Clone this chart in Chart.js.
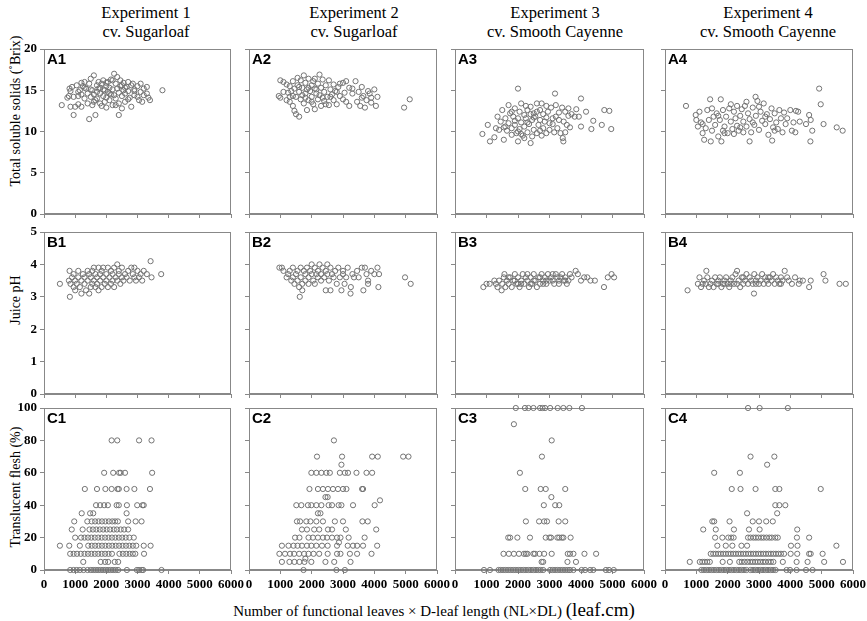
<!DOCTYPE html>
<html><head><meta charset="utf-8">
<script src="https://cdn.jsdelivr.net/npm/chart.js@4.4.0/dist/chart.umd.min.js"></script>
<style>
body{margin:0;background:#fff;width:867px;height:621px;overflow:hidden;position:relative;font-family:"Liberation Serif","DejaVu Serif",serif;}
.t{position:absolute;white-space:nowrap;color:#000;transform:translate(-50%,-50%);line-height:1;}
.yt{position:absolute;white-space:nowrap;color:#000;transform:translate(-50%,-50%) rotate(-90deg);font-size:14px;line-height:1;}
.lab{position:absolute;font-family:"Liberation Sans",Arial,sans-serif;font-weight:bold;font-size:15px;line-height:1;color:#000;}
.box{position:absolute;}
</style></head><body>
<div class="t" style="left:146px;top:13px;font-size:16.5px">Experiment 1</div>
<div class="t" style="left:146px;top:32px;font-size:16.5px">cv. Sugarloaf</div>
<div class="t" style="left:354px;top:13px;font-size:16.5px">Experiment 2</div>
<div class="t" style="left:354px;top:32px;font-size:16.5px">cv. Sugarloaf</div>
<div class="t" style="left:555px;top:13px;font-size:16.5px">Experiment 3</div>
<div class="t" style="left:555px;top:32px;font-size:16.5px">cv. Smooth Cayenne</div>
<div class="t" style="left:768px;top:13px;font-size:16.5px">Experiment 4</div>
<div class="t" style="left:768px;top:32px;font-size:16.5px">cv. Smooth Cayenne</div>
<div class="yt" style="left:16px;top:111px">Total soluble solids (˚Brix)</div>
<div class="yt" style="left:16px;top:300px">Juice pH</div>
<div class="yt" style="left:16px;top:487px">Translucent flesh (%)</div>
<div class="t" style="left:434px;top:609px;font-size:15px">Number of functional leaves × D-leaf length (NL×DL) <span style="font-size:19px">(leaf.cm)</span></div>
<script>
// ---- data ----
const xTickValues = [0,1000,2000,3000,4000,5000,6000];
const panelLabels = ['A1','A2','A3','A4','B1','B2','B3','B4','C1','C2','C3','C4'];
const rowYMax = [20,5,100];
const rowYStep = [5,1,20];

const tssExp1 = [[570,13.2],[750,14.1],[800,14.3],[820,15.2],[850,13],[850,14.9],[900,15.4],[950,12],[950,14.2],[1000,13],[1050,15.6],[1100,14.8],[1100,13.3],[1100,14.3],[1150,15],[1200,14.5],[1200,13],[1200,15.9],[1250,15.5],[1300,14],[1300,16],[1300,15.3],[1350,15.2],[1400,14.6],[1400,13.4],[1450,11.5],[1450,15.8],[1500,16.4],[1500,14.2],[1500,15.1],[1550,13.2],[1550,15],[1600,16.8],[1600,14.5],[1600,13.6],[1650,13.8],[1650,12],[1700,15.6],[1700,14.8],[1700,14],[1750,16],[1750,15.2],[1800,13.4],[1800,14.6],[1800,15.3],[1850,15.8],[1850,13.1],[1900,16.2],[1900,14.3],[1900,15.1],[1950,15],[1950,13.6],[2000,15.5],[2000,14.1],[2000,12.9],[2000,15.9],[2050,16],[2050,14.8],[2100,15.3],[2100,13.8],[2100,14.6],[2150,14.5],[2150,16.3],[2200,15.1],[2200,13.2],[2200,16.2],[2250,17],[2250,14.4],[2300,15.8],[2300,14],[2300,13.2],[2350,16.6],[2350,15.2],[2400,12],[2400,14.7],[2400,13.4],[2450,16.2],[2450,15.5],[2500,14.3],[2500,12.8],[2500,15.6],[2550,15.9],[2550,15],[2600,14.6],[2600,13.6],[2600,15.3],[2650,15.4],[2700,14.9],[2700,16],[2700,13.9],[2750,14.1],[2800,15.6],[2800,13],[2850,15.8],[2900,14.4],[2900,15.1],[2900,14.9],[3000,14.2],[3000,15.5],[3050,13.8],[3100,14.8],[3100,15.8],[3150,13.6],[3200,14.4],[3200,15.2],[3300,15.4],[3300,14.6],[3350,14.1],[3400,13.8],[3800,15]];

const tssExp2 = [[950,14.3],[1000,14.1],[1000,16.2],[1100,16],[1100,14.8],[1200,15.7],[1200,13.8],[1250,14.7],[1300,13.6],[1300,15.5],[1300,14.2],[1350,14.9],[1400,16.1],[1400,13.1],[1400,14.3],[1450,12.5],[1450,15.2],[1500,12.1],[1500,14.2],[1550,16.5],[1550,15.6],[1600,11.8],[1600,14.8],[1600,15.4],[1650,13.9],[1650,16.2],[1700,15.3],[1700,14.4],[1750,16.8],[1750,13.4],[1800,15.9],[1800,14.6],[1800,14.1],[1850,15.1],[1850,12.6],[1900,16.4],[1900,13.8],[1900,15.3],[1950,14.9],[2000,15.6],[2000,14.2],[2000,13.6],[2050,16.1],[2050,13.3],[2100,15.2],[2100,12.7],[2100,16.4],[2150,14.6],[2150,15.1],[2200,15.8],[2200,13.9],[2250,16.9],[2250,14.4],[2300,15.3],[2300,13.1],[2350,16.3],[2350,14.1],[2400,14.8],[2400,13.7],[2450,15.6],[2450,13.3],[2500,14.2],[2550,16.2],[2550,13.2],[2600,15.1],[2600,14.2],[2650,14.5],[2700,13.8],[2700,15.7],[2750,14.9],[2800,13.3],[2800,14.8],[2850,15.4],[2900,14.3],[2900,15.8],[3000,15.9],[3000,13.9],[3050,14.7],[3100,16.1],[3100,13.6],[3200,15.3],[3200,13.1],[3300,14.6],[3300,15.2],[3400,16.1],[3450,13.6],[3500,14.8],[3550,13.1],[3600,15.4],[3600,14.1],[3650,14.3],[3700,12.9],[3750,13.8],[3800,14.9],[3850,14.6],[3900,14.1],[3900,13.5],[4000,15.1],[4050,13.1],[4100,14.2],[4950,12.9],[5130,13.9]];

const tssExp3 = [[870,9.7],[1040,10.8],[1110,8.8],[1250,9.3],[1300,10.4],[1350,11.8],[1400,10.2],[1450,11.2],[1500,12.6],[1550,10.5],[1550,9],[1600,11.6],[1600,10.6],[1650,10.1],[1700,13.2],[1700,11],[1750,12.2],[1800,10.4],[1800,9.6],[1800,12.4],[1850,11.8],[1900,12.8],[1900,10.8],[1900,11.3],[1950,9.8],[2000,15.2],[2000,11.6],[2000,8.8],[2000,10],[2050,12.4],[2050,10.3],[2100,13.4],[2100,11.1],[2100,9.7],[2150,9.5],[2200,12],[2200,10.6],[2200,9.2],[2250,13.1],[2250,11.6],[2300,9.9],[2300,12.6],[2300,11.1],[2350,10.9],[2400,13],[2400,8.6],[2400,12.1],[2450,11.4],[2450,9.4],[2500,12.2],[2500,10.2],[2500,11.7],[2550,11.8],[2600,13.4],[2600,9.8],[2600,12.4],[2650,10.8],[2700,12.6],[2700,11.4],[2700,10.1],[2750,13.4],[2750,9.5],[2800,12.1],[2800,10.4],[2850,11.2],[2900,13.1],[2900,9.8],[2900,11.7],[2950,12.4],[3000,11],[3000,10.2],[3050,12.9],[3100,11.6],[3100,10.9],[3150,9.9],[3175,14.6],[3200,13.2],[3200,11.8],[3250,10.4],[3300,12.3],[3300,11.4],[3350,9.8],[3400,12.9],[3420,9.2],[3440,8.8],[3450,11.2],[3500,12.4],[3500,9.9],[3550,10.8],[3600,11.9],[3600,12.8],[3650,10.5],[3700,12.1],[3800,11.8],[3850,12.7],[3930,11.8],[4000,14],[4000,10.6],[4160,12.4],[4330,10.3],[4390,11.3],[4660,10.8],[4740,12.6],[4900,12.5],[4960,10.3]];

const tssExp4 = [[670,13.1],[980,12],[1000,11.4],[1050,10.6],[1100,12.4],[1150,11.1],[1200,9.8],[1200,10.9],[1250,9],[1300,10.4],[1350,12.6],[1400,11.4],[1440,13.9],[1460,8.8],[1500,10.1],[1500,12.8],[1550,11.8],[1600,10.8],[1650,12.2],[1700,9.4],[1700,11.9],[1750,11.4],[1780,13.9],[1800,8.8],[1850,12.6],[1850,10.1],[1900,10.6],[1900,9.8],[1950,11.8],[2000,9.8],[2050,12.8],[2100,11.2],[2100,13.3],[2150,10.3],[2200,12.4],[2200,9.7],[2250,11.6],[2300,13.1],[2300,10.7],[2350,10.1],[2400,11.9],[2400,10.5],[2450,12.7],[2500,9.9],[2500,11.2],[2550,13.1],[2600,10.6],[2600,13.6],[2650,12.2],[2700,8.8],[2700,11.5],[2750,9.9],[2800,12.9],[2800,11.1],[2850,10.8],[2890,14.2],[2900,11.9],[2950,13.7],[3000,10.2],[3000,13],[3050,12.4],[3100,11.3],[3150,13.4],[3200,10.9],[3200,11.8],[3250,12.1],[3300,9.6],[3350,11.5],[3400,12.8],[3420,8.9],[3450,10.5],[3500,12.2],[3500,10.1],[3550,11.1],[3600,10.3],[3650,12.6],[3700,11.6],[3750,9.9],[3800,12.3],[3850,10.9],[3900,11.6],[4000,12.6],[4050,10.1],[4100,11.1],[4160,9.9],[4180,12.5],[4250,12.4],[4300,11.2],[4500,10.9],[4600,12],[4640,8.8],[4650,11.4],[4700,10.1],[4920,15.2],[4970,13.3],[5060,10.9],[5480,10.5],[5670,10.1]];

const phExp1 = [[510,3.4],[800,3.5],[820,3.8],[830,3],[850,3.4],[900,3.6],[950,3.3],[950,3.7],[1000,3.2],[1000,3.5],[1050,3.4],[1100,3.8],[1100,3.6],[1150,3.3],[1200,3.1],[1200,3.5],[1250,3.7],[1300,3.4],[1300,3.6],[1350,3.2],[1400,3.8],[1400,3.5],[1450,3.1],[1450,3.7],[1500,3.3],[1500,3.6],[1550,3.4],[1550,3.8],[1600,3.5],[1600,3.9],[1650,3.3],[1650,3.7],[1700,3.6],[1700,3.4],[1750,3.9],[1750,3.2],[1800,3.5],[1800,3.7],[1850,3.8],[1850,3.3],[1900,3.6],[1900,3.9],[1950,3.4],[2000,3.7],[2000,3.5],[2050,3.9],[2050,3.3],[2100,3.6],[2150,3.8],[2150,3.4],[2200,3.5],[2200,3.7],[2250,3.9],[2250,3.3],[2300,3.6],[2350,4],[2350,3.5],[2400,3.7],[2400,3.8],[2450,3.4],[2500,3.6],[2500,3.9],[2550,3.5],[2600,3.7],[2650,3.6],[2700,3.8],[2750,3.5],[2800,3.9],[2850,3.7],[2900,3.6],[2900,3.9],[2950,3.5],[3000,3.8],[3050,3.6],[3100,3.7],[3150,3.5],[3200,3.8],[3300,3.7],[3420,4.1],[3450,3.6],[3760,3.7]];

const phExp2 = [[970,3.9],[1050,3.9],[1100,3.8],[1200,3.6],[1250,3.7],[1300,3.8],[1350,3.5],[1400,3.9],[1400,3.6],[1450,3.4],[1500,3.7],[1550,3.8],[1550,3.5],[1600,3.3],[1620,3],[1650,3.9],[1650,3.6],[1700,3.4],[1700,3.2],[1750,3.8],[1800,3.7],[1800,3.5],[1850,3.9],[1900,3.4],[1900,3.6],[1950,3.8],[2000,3.7],[2000,4],[2050,3.5],[2100,3.9],[2100,3.4],[2150,3.7],[2200,3.6],[2200,3.8],[2250,4],[2300,3.5],[2300,3.7],[2350,3.9],[2400,3.6],[2450,3.2],[2450,3.8],[2500,3.7],[2500,4],[2550,3.5],[2600,3.2],[2600,3.9],[2650,3.7],[2700,3.6],[2750,3.8],[2800,3.4],[2850,3.9],[2900,3.6],[2950,3.2],[3000,3.8],[3000,3.7],[3050,3.4],[3100,3.6],[3150,3.9],[3240,3.1],[3250,3.3],[3300,3.7],[3350,3.6],[3450,3.8],[3500,3.6],[3600,3.9],[3650,3.2],[3700,3.9],[3750,3.7],[3800,3.5],[3800,3.4],[3900,3.8],[4000,3.7],[4100,3.9],[4130,3.3],[4150,3.7],[4980,3.6],[5160,3.4]];

const phExp3 = [[900,3.3],[1000,3.4],[1100,3.4],[1250,3.5],[1300,3.4],[1350,3.3],[1400,3.5],[1480,3.2],[1500,3.4],[1550,3.6],[1570,3.7],[1600,3.3],[1650,3.5],[1700,3.4],[1700,3.6],[1750,3.6],[1800,3.3],[1850,3.5],[1900,3.7],[1900,3.5],[1950,3.4],[2000,3.6],[2000,3.4],[2050,3.3],[2100,3.5],[2100,3.4],[2150,3.7],[2200,3.4],[2250,3.6],[2300,3.5],[2300,3.7],[2350,3.3],[2400,3.6],[2400,3.4],[2450,3.4],[2500,3.7],[2500,3.5],[2550,3.5],[2600,3.3],[2650,3.6],[2700,3.4],[2700,3.6],[2750,3.7],[2800,3.5],[2800,3.4],[2850,3.6],[2900,3.4],[2900,3.5],[2950,3.7],[3000,3.5],[3050,3.6],[3100,3.5],[3100,3.7],[3150,3.4],[3200,3.7],[3250,3.6],[3300,3.5],[3300,3.4],[3350,3.6],[3400,3.7],[3450,3.5],[3500,3.6],[3500,3.5],[3550,3.4],[3600,3.5],[3650,3.7],[3700,3.6],[3830,3.8],[3900,3.7],[4000,3.5],[4100,3.6],[4200,3.6],[4300,3.5],[4440,3.5],[4730,3.3],[4850,3.6],[4970,3.7],[5050,3.6]];

const phExp4 = [[720,3.2],[1050,3.4],[1100,3.6],[1150,3.3],[1200,3.4],[1250,3.5],[1300,3.4],[1320,3.8],[1350,3.6],[1400,3.3],[1450,3.4],[1500,3.5],[1550,3.3],[1600,3.6],[1650,3.4],[1700,3.5],[1700,3.4],[1750,3.6],[1800,3.3],[1850,3.4],[1900,3.5],[1900,3.4],[1950,3.6],[2000,3.4],[2050,3.3],[2100,3.5],[2100,3.4],[2150,3.6],[2200,3.4],[2250,3.7],[2300,3.8],[2300,3.4],[2350,3.5],[2400,3.3],[2450,3.6],[2500,3.4],[2500,3.6],[2550,3.5],[2600,3.7],[2650,3.4],[2700,3.6],[2750,3.5],[2800,3.4],[2840,3.1],[2850,3.7],[2900,3.5],[2900,3.4],[2950,3.6],[3000,3.4],[3050,3.5],[3100,3.7],[3150,3.4],[3200,3.6],[3250,3.5],[3300,3.4],[3300,3.6],[3350,3.6],[3400,3.5],[3450,3.7],[3500,3.4],[3550,3.6],[3600,3.5],[3650,3.4],[3700,3.6],[3700,3.4],[3750,3.5],[3820,3.8],[3900,3.6],[3950,3.5],[4050,3.4],[4150,3.6],[4270,3.4],[4300,3.5],[4400,3.5],[4600,3.3],[4650,3.5],[5060,3.7],[5120,3.5],[5570,3.4],[5770,3.4]];

const tfExp1 = [[2170,80],[2350,80],[3050,80],[3450,80],[1930,60],[2220,60],[2410,60],[2460,60],[2600,60],[3470,60],[1310,50],[1700,50],[1970,50],[2170,50],[2360,50],[2400,50],[2650,50],[2900,50],[3400,50],[1670,40],[1800,40],[1930,40],[2050,40],[2330,40],[2400,40],[2660,40],[2990,40],[3160,40],[3200,40],[1210,35],[1480,35],[1580,35],[2650,35],[970,30],[1390,30],[1530,30],[1640,30],[1750,30],[1860,30],[1970,30],[2080,30],[2190,30],[2280,30],[2370,30],[2700,30],[2940,30],[3130,30],[890,25],[1240,25],[1460,25],[1570,25],[1680,25],[1790,25],[1900,25],[2010,25],[2120,25],[2240,25],[2340,25],[2460,25],[2570,25],[2700,25],[1000,20],[1190,20],[1300,20],[1410,20],[1520,20],[1630,20],[1740,20],[1850,20],[1960,20],[2070,20],[2180,20],[2290,20],[2400,20],[2510,20],[2620,20],[2740,20],[2880,20],[510,15],[810,15],[1150,15],[1420,15],[1530,15],[1640,15],[1750,15],[1860,15],[1970,15],[2080,15],[2190,15],[2300,15],[2410,15],[2520,15],[2630,15],[2740,15],[2850,15],[2960,15],[3200,15],[3420,15],[840,10],[950,10],[1060,10],[1180,10],[1300,10],[1410,10],[1520,10],[1630,10],[1740,10],[1850,10],[1960,10],[2070,10],[2180,10],[2420,10],[2530,10],[2640,10],[2750,10],[2850,10],[2930,10],[3210,10],[1260,5],[1820,5],[1960,5],[2060,5],[2270,5],[2380,5],[840,0],[950,0],[1050,0],[1150,0],[1270,0],[1400,0],[1500,0],[1580,0],[1660,0],[1740,0],[1820,0],[1900,0],[1980,0],[2060,0],[2140,0],[2220,0],[2300,0],[2380,0],[2660,0],[2980,0],[3050,0],[3140,0],[3180,0],[3770,0]];

const tfExp2 = [[2710,80],[2170,70],[2970,70],[3930,70],[4110,70],[4920,70],[5090,70],[2950,65],[1990,60],[2150,60],[2310,60],[2470,60],[2580,60],[2900,60],[3060,60],[3160,60],[3430,60],[3750,60],[3930,60],[1930,50],[2200,50],[2360,50],[2520,50],[2680,50],[2840,50],[3000,50],[3110,50],[3610,50],[3640,50],[2440,45],[2510,45],[4180,43],[1510,40],[1670,40],[1880,40],[1990,40],[2150,40],[2310,40],[2540,40],[2650,40],[2860,40],[2950,40],[3320,40],[4010,40],[2200,35],[2280,35],[1530,30],[1630,30],[1830,30],[1960,30],[2150,30],[2360,30],[2740,30],[3000,30],[3620,30],[3790,30],[1690,25],[1850,25],[2080,25],[2240,25],[2520,25],[2650,25],[3090,25],[4060,25],[1470,20],[1610,20],[1900,20],[2040,20],[2200,20],[2360,20],[2490,20],[2650,20],[2810,20],[2920,20],[3180,20],[3690,20],[2870,17],[1050,15],[1260,15],[1420,15],[1550,15],[1690,15],[1850,15],[1990,15],[2150,15],[2330,15],[2510,15],[2810,15],[3150,15],[3320,15],[3450,15],[3640,15],[4090,15],[970,10],[1150,10],[1310,10],[1440,10],[1600,10],[1760,10],[1900,10],[2060,10],[2240,10],[2510,10],[2810,10],[2920,10],[3220,10],[3450,10],[3910,10],[1800,7],[1050,5],[1290,5],[1450,5],[1610,5],[1770,5],[1990,5],[2440,5],[2720,5],[3240,5],[1740,0],[2790,0],[3060,0]];

const tfExp3 = [[1930,100],[2220,100],[2330,100],[2490,100],[2700,100],[2780,100],[2860,100],[3020,100],[3260,100],[3440,100],[3630,100],[4030,100],[1870,90],[3070,80],[2760,70],[2060,60],[2230,50],[2720,50],[2880,50],[3500,50],[3060,45],[2820,40],[3180,40],[3310,40],[2250,30],[2670,30],[2830,30],[2920,30],[3290,30],[3500,30],[1690,20],[1750,20],[1980,20],[2380,20],[2880,20],[3000,20],[3050,20],[3250,20],[3310,20],[3390,20],[3440,20],[3670,20],[1540,10],[1710,10],[1870,10],[2030,10],[2190,10],[2250,10],[2300,10],[2490,10],[2540,10],[2680,10],[2830,10],[3070,10],[3580,10],[3650,10],[3760,10],[4110,10],[4480,10],[2750,5],[2800,5],[3570,5],[3840,5],[920,0],[1110,0],[1380,0],[1450,0],[1530,0],[1610,0],[1690,0],[1770,0],[1850,0],[1930,0],[2010,0],[2090,0],[2170,0],[2250,0],[2330,0],[2410,0],[2490,0],[2570,0],[2650,0],[2720,0],[2800,0],[3020,0],[3100,0],[3180,0],[3260,0],[3340,0],[3420,0],[3500,0],[3580,0],[3650,0],[3760,0],[4020,0],[4130,0],[4290,0],[4390,0],[4790,0],[4890,0],[5040,0]];

const tfExp4 = [[2650,100],[3020,100],[3920,100],[2730,70],[3490,70],[3260,65],[1570,60],[2390,60],[2130,50],[2410,50],[2890,50],[3520,50],[3650,50],[4970,50],[3520,40],[3650,40],[3840,40],[2620,35],[3580,35],[1510,30],[1570,30],[2060,30],[2800,30],[3000,30],[3230,30],[3440,30],[1220,25],[1620,25],[2200,25],[2680,25],[3020,25],[4220,25],[1600,20],[1830,20],[2020,20],[2110,20],[2190,20],[2650,20],[2730,20],[2820,20],[2900,20],[2980,20],[3070,20],[3150,20],[3240,20],[3330,20],[3410,20],[3520,20],[3600,20],[4210,20],[4600,20],[1670,15],[1940,15],[2150,15],[2440,15],[2620,15],[4020,15],[4230,15],[5470,15],[1460,10],[1540,10],[1620,10],[1700,10],[1780,10],[1860,10],[1940,10],[2020,10],[2100,10],[2180,10],[2260,10],[2340,10],[2420,10],[2500,10],[2580,10],[2660,10],[2740,10],[2820,10],[2900,10],[2980,10],[3060,10],[3140,10],[3220,10],[3300,10],[3380,10],[3460,10],[3540,10],[3620,10],[3700,10],[3800,10],[4010,10],[4220,10],[4600,10],[4650,10],[5030,10],[790,5],[1110,5],[1190,5],[1270,5],[1350,5],[1430,5],[1840,5],[2070,5],[2370,5],[2450,5],[2540,5],[2630,5],[2720,5],[2800,5],[2880,5],[2960,5],[3040,5],[3130,5],[3210,5],[3300,5],[3380,5],[3460,5],[3760,5],[4200,5],[4550,5],[5080,5],[5680,5],[1160,0],[1240,0],[1320,0],[1400,0],[1480,0],[1560,0],[1640,0],[1720,0],[1800,0],[1880,0],[1960,0],[2040,0],[2120,0],[2200,0],[2280,0],[2360,0],[2440,0],[2520,0],[2600,0],[2730,0],[2810,0],[2890,0],[2970,0],[3050,0],[3130,0],[3210,0],[3290,0],[3370,0],[3450,0],[3530,0],[3880,0],[3990,0],[4200,0],[4500,0],[4710,0]];

const panelData = [tssExp1,tssExp2,tssExp3,tssExp4,phExp1,phExp2,phExp3,phExp4,tfExp1,tfExp2,tfExp3,tfExp4];

// ---- layout ----
const colLeft = [44,249,455,665];
const colWidth = [187,188,189,188];
const rowTop = [49,232,408];
const rowHeight = [165,162,162];
const PAD_L = 40, PAD_T = 12, PAD_R = 26, PAD_B = 30;

const boxPlugin = {
  id:'boxPlugin',
  beforeDatasetsDraw(chart){
    const a = chart.chartArea, ctx = chart.ctx;
    ctx.save();
    ctx.strokeStyle = '#888888';
    ctx.lineWidth = 1;
    ctx.strokeRect(Math.round(a.left)+0.5, Math.round(a.top)+0.5, Math.round(a.right-a.left)-1, Math.round(a.bottom-a.top)-1);
    ctx.restore();
  }
};

const tickFont = {family:'"Liberation Serif", "Times New Roman", serif', size:13, weight:'bold'};

for (let i=0;i<12;i++){
  const row = Math.floor(i/4), col = i%4;
  const L = colLeft[col], T = rowTop[row], W = colWidth[col], H = rowHeight[row];
  const cw = PAD_L + W + PAD_R, ch = PAD_T + H + PAD_B;
  const div = document.createElement('div');
  div.className = 'box';
  div.style.left = (L-PAD_L)+'px'; div.style.top = (T-PAD_T)+'px';
  div.style.width = cw+'px'; div.style.height = ch+'px';
  const cv = document.createElement('canvas');
  cv.width = cw; cv.height = ch;
  cv.style.width = cw+'px'; cv.style.height = ch+'px';
  div.appendChild(cv);
  document.body.appendChild(div);

  const lab = document.createElement('div');
  lab.className = 'lab';
  lab.textContent = panelLabels[i];
  lab.style.left = (L+3)+'px'; lab.style.top = (T+2)+'px';
  document.body.appendChild(lab);

  new Chart(cv, {
    type:'scatter',
    data:{datasets:[{
      data: panelData[i].map(p=>({x:p[0], y:p[1]})),
      pointStyle:'circle', pointRadius:2.6, pointHoverRadius:2.6,
      borderColor:'#737373', backgroundColor:'rgba(255,255,255,0)', borderWidth:1,
      clip:false
    }]},
    options:{
      responsive:false, animation:false, events:[],
      layout:{padding:{top:PAD_T,right:PAD_R,left:0,bottom:0}},
      plugins:{legend:{display:false}, tooltip:{enabled:false}},
      scales:{
        x:{type:'linear', min:0, max:6000,
           afterBuildTicks(s){ s.ticks = xTickValues.map(v=>({value:v})); },
           ticks:{display: row===2, font:tickFont, color:'#000', padding:3, autoSkip:false, maxRotation:0,
                  callback:(v)=>String(v)},
           grid:{drawOnChartArea:false, drawTicks:true, tickLength:4, color:'#888888', tickColor:'#888888'},
           border:{display:true, color:'#888888'},
           afterFit(s){ s.height = PAD_B; s.paddingLeft = 0; s.paddingRight = 0; }
        },
        y:{type:'linear', min:0, max:rowYMax[row],
           ticks:{display: col===0, stepSize:rowYStep[row], font:tickFont, color:'#000', padding:3, autoSkip:false,
                  callback:(v)=>String(v)},
           grid:{drawOnChartArea:false, drawTicks:true, tickLength:4, color:'#888888', tickColor:'#888888'},
           border:{display:true, color:'#888888'},
           afterFit(s){ s.width = PAD_L; s.paddingTop = 0; s.paddingBottom = 0; }
        }
      }
    },
    plugins:[boxPlugin]
  });
}
</script>
</body></html>
